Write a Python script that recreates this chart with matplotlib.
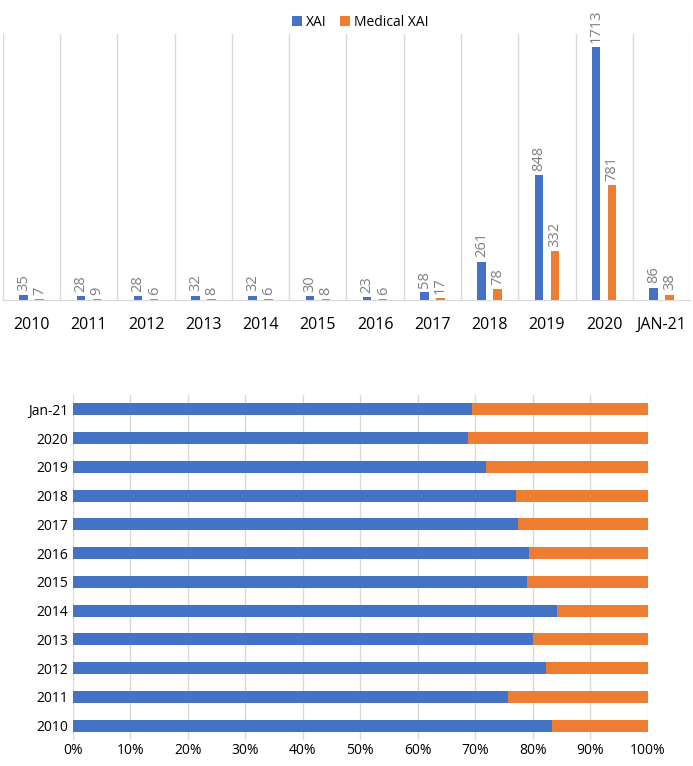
"""Recreate the XAI vs Medical XAI publication counts figure (counts + share)."""

import matplotlib.pyplot as plt
import matplotlib
import numpy as np

matplotlib.rcParams.update({
    "font.family": ["Open Sans", "DejaVu Sans"],
    "figure.dpi": 100,
})

# ── Data ────────────────────────────────────────────────────────────────
years_top = ["2010", "2011", "2012", "2013", "2014", "2015", "2016",
             "2017", "2018", "2019", "2020", "JAN-21"]
years_bottom = ["2010", "2011", "2012", "2013", "2014", "2015", "2016",
                "2017", "2018", "2019", "2020", "Jan-21"]
xai = [35, 28, 28, 32, 32, 30, 23, 58, 261, 848, 1713, 86]
medical_xai = [7, 9, 6, 8, 6, 8, 6, 17, 78, 332, 781, 38]

BLUE = "#4472C4"
ORANGE = "#ED7D31"
GRID = "#D9D9D9"
LABEL_GRAY = "#7F7F7F"

fig = plt.figure(figsize=(6.93, 7.66))

# ── Top: clustered counts ───────────────────────────────────────────────
ax1 = fig.add_axes([0.0043, 0.608, 0.9914, 0.3476])
x = np.arange(len(years_top))
width = 0.15
off = 0.14
b1 = ax1.bar(x - off, xai, width, color=BLUE, label="XAI", zorder=3)
b2 = ax1.bar(x + off, medical_xai, width, color=ORANGE, label="Medical XAI", zorder=3)

for bars in (b1, b2):
    for bar in bars:
        h = bar.get_height()
        ax1.annotate(f"{int(h)}",
                     xy=(bar.get_x() + bar.get_width() / 2, h),
                     xytext=(0, 3), textcoords="offset points",
                     ha="center", va="bottom", rotation=90,
                     fontsize=10.5, color=LABEL_GRAY)

ax1.set_xlim(-0.5, len(years_top) - 0.5)
ax1.set_ylim(0, 1800)
ax1.set_yticks([])
ax1.set_xticks(x)
ax1.set_xticklabels(years_top, fontsize=11.5)
ax1.tick_params(axis="x", length=0, pad=12)
for b in np.arange(-0.5, len(years_top), 1.0):
    ax1.axvline(b, color=GRID, linewidth=1, zorder=1)
for s in ("top", "right", "left"):
    ax1.spines[s].set_visible(False)
ax1.spines["bottom"].set_color(GRID)
ax1.legend(loc="upper center", bbox_to_anchor=(0.52, 1.118), ncol=2,
           frameon=False, fontsize=10, handlelength=0.7, handleheight=0.7,
           handletextpad=0.3, columnspacing=1.0)

# ── Bottom: 100% stacked share ──────────────────────────────────────────
ax2 = fig.add_axes([0.105, 0.034, 0.83, 0.4503])
tot = np.array(xai) + np.array(medical_xai)
xai_share = np.array(xai) / tot
med_share = np.array(medical_xai) / tot
y = np.arange(len(years_bottom))
ax2.barh(y, xai_share, 0.42, color=BLUE, zorder=3)
ax2.barh(y, med_share, 0.42, left=xai_share, color=ORANGE, zorder=3)
ax2.set_ylim(-0.5, len(years_bottom) - 0.5)
ax2.set_xlim(0, 1)
ax2.set_yticks(y)
ax2.set_yticklabels(years_bottom, fontsize=10)
ax2.set_xticks(np.linspace(0, 1, 11))
ax2.set_xticklabels([f"{p}%" for p in range(0, 101, 10)], fontsize=10)
ax2.tick_params(length=0)
ax2.tick_params(axis="x", pad=2)
ax2.grid(axis="x", color=GRID, linewidth=1, zorder=0)
for s in ax2.spines.values():
    s.set_visible(False)

fig.savefig("out.png", dpi=100)
